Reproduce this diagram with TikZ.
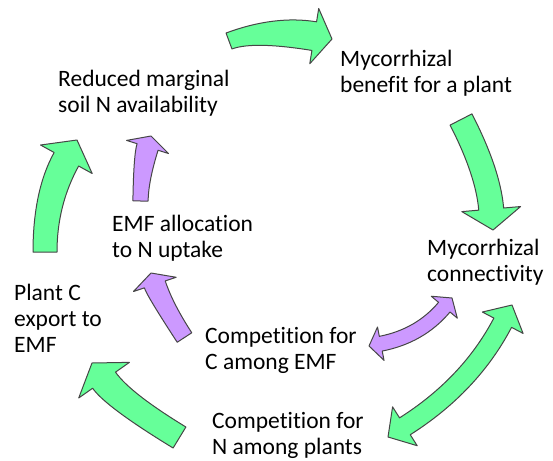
\documentclass[tikz,border=0pt]{standalone}
\usepackage{fontspec}
\setmainfont[Ligatures=NoCommon]{Carlito}
\usetikzlibrary{calc}

\definecolor{arrgreen}{RGB}{102,255,153}
\definecolor{arrpurple}{RGB}{204,153,255}
\definecolor{arredge}{RGB}{70,70,70}

\tikzset{
	lbl/.style={anchor=base west, align=left, inner sep=0pt, font=\fontsize{23.5}{26}\selectfont},
	greenarr/.style={fill=arrgreen, draw=arredge, line width=1pt, line join=round},
	purplearr/.style={fill=arrpurple, draw=arredge, line width=1pt, line join=round}
}

% curved block arrow: style, tail, bend point, tip, tail half width, body half width at head, head half width, head length
\newcommand{\bentarrow}[8]{
	\path ($(#4)!#8!(#3)$) coordinate (hb)
		($(#2)!#5!90:(#3)$) coordinate (a1)
		($(#2)!#5!-90:(#3)$) coordinate (a2)
		($(hb)!#6!-90:(#3)$) coordinate (h1)
		($(hb)!#6!90:(#3)$) coordinate (h2)
		($(hb)!#7!-90:(#3)$) coordinate (b1)
		($(hb)!#7!90:(#3)$) coordinate (b2)
		($(a1)+(#3)-(#2)$) coordinate (a1k)
		($(a2)+(#3)-(#2)$) coordinate (a2k)
		($(h1)+(#3)-(hb)$) coordinate (h1k)
		($(h2)+(#3)-(hb)$) coordinate (h2k);
	\path (intersection of a1--a1k and h1--h1k) coordinate (k1)
		(intersection of a2--a2k and h2--h2k) coordinate (k2);
	\filldraw[#1] (a1) .. controls ($(a1)!2/3!(k1)$) and ($(h1)!2/3!(k1)$) .. (h1)
		-- (b1) -- (#4) -- (b2) -- (h2)
		.. controls ($(h2)!2/3!(k2)$) and ($(a2)!2/3!(k2)$) .. (a2) -- cycle;
}

% the same with a head at both ends: style, first tip, bend point, second tip, body half width, head half width, head length
\newcommand{\bentarrowtwo}[7]{
	\path ($(#2)!#7!(#3)$) coordinate (hs)
		($(#4)!#7!(#3)$) coordinate (hb)
		($(hs)!#5!90:(#3)$) coordinate (a1)
		($(hs)!#5!-90:(#3)$) coordinate (a2)
		($(hs)!#6!90:(#3)$) coordinate (c1)
		($(hs)!#6!-90:(#3)$) coordinate (c2)
		($(hb)!#5!-90:(#3)$) coordinate (h1)
		($(hb)!#5!90:(#3)$) coordinate (h2)
		($(hb)!#6!-90:(#3)$) coordinate (b1)
		($(hb)!#6!90:(#3)$) coordinate (b2)
		($(a1)+(#3)-(hs)$) coordinate (a1k)
		($(a2)+(#3)-(hs)$) coordinate (a2k)
		($(h1)+(#3)-(hb)$) coordinate (h1k)
		($(h2)+(#3)-(hb)$) coordinate (h2k);
	\path (intersection of a1--a1k and h1--h1k) coordinate (k1)
		(intersection of a2--a2k and h2--h2k) coordinate (k2);
	\filldraw[#1] (a1) .. controls ($(a1)!2/3!(k1)$) and ($(h1)!2/3!(k1)$) .. (h1)
		-- (b1) -- (#4) -- (b2) -- (h2)
		.. controls ($(h2)!2/3!(k2)$) and ($(a2)!2/3!(k2)$) .. (a2)
		-- (c2) -- (#2) -- (c1) -- cycle;
}

\begin{document}
\begin{tikzpicture}[x=1pt,y=-1pt]
	\useasboundingbox (0,0) rectangle (553,460);

	% base of the last line
	\node[lbl] (soil) at (58,112) {Reduced marginal\\soil N availability};
	\node[lbl] (benefit) at (340,92) {Mycorrhizal\\benefit for a plant};
	\node[lbl] (alloc) at (112,257) {EMF allocation\\to N uptake};
	\node[lbl] (connect) at (427,281) {Mycorrhizal\\connectivity};
	\node[lbl] (export) at (14,352) {Plant C\\export to\\EMF};
	\node[lbl] (compC) at (205,369) {Competition for\\C among EMF};
	\node[lbl] (compN) at (212,454) {Competition for\\N among plants};

	\coordinate (topT) at (229,41);
	\coordinate (topC) at (264,28);
	\coordinate (topH) at (332,39);
	\coordinate (rightT) at (461,119.5);
	\coordinate (rightC) at (488,172);
	\coordinate (rightH) at (493,230);
	\coordinate (leftT) at (45,252);
	\coordinate (leftC) at (45,198);
	\coordinate (leftH) at (77,140);
	\coordinate (lowT) at (179.5,437.5);
	\coordinate (lowC) at (118,400);
	\coordinate (lowH) at (92,363);
	\coordinate (upT) at (140.5,201);
	\coordinate (upC) at (141,168);
	\coordinate (upH) at (151,136);
	\coordinate (midT) at (184.5,337.5);
	\coordinate (midC) at (160,300);
	\coordinate (midH) at (151,273);
	\coordinate (pairA) at (369,346);
	\coordinate (pairC) at (420,336);
	\coordinate (pairB) at (452,298);
	\coordinate (ringA) at (388,437);
	\coordinate (ringC) at (470,385);
	\coordinate (ringB) at (512,305);

	\bentarrow{greenarr}{topT}{topC}{topH}{8.5pt}{14.5pt}{28pt}{18pt}
	\bentarrow{greenarr}{rightT}{rightC}{rightH}{12.3pt}{12.5pt}{29.5pt}{21pt}
	\bentarrow{greenarr}{leftT}{leftC}{leftH}{12pt}{14pt}{29.5pt}{22pt}
	\bentarrow{greenarr}{lowT}{lowC}{lowH}{12.3pt}{14pt}{31pt}{21pt}
	\bentarrow{purplearr}{upT}{upC}{upH}{7.6pt}{11pt}{22pt}{11.5pt}
	\bentarrow{purplearr}{midT}{midC}{midH}{8.7pt}{11pt}{22.5pt}{12pt}
	\bentarrowtwo{purplearr}{pairA}{pairC}{pairB}{7.5pt}{17pt}{12pt}
	\bentarrowtwo{greenarr}{ringA}{ringC}{ringB}{10pt}{23pt}{20pt}
\end{tikzpicture}
\end{document}
